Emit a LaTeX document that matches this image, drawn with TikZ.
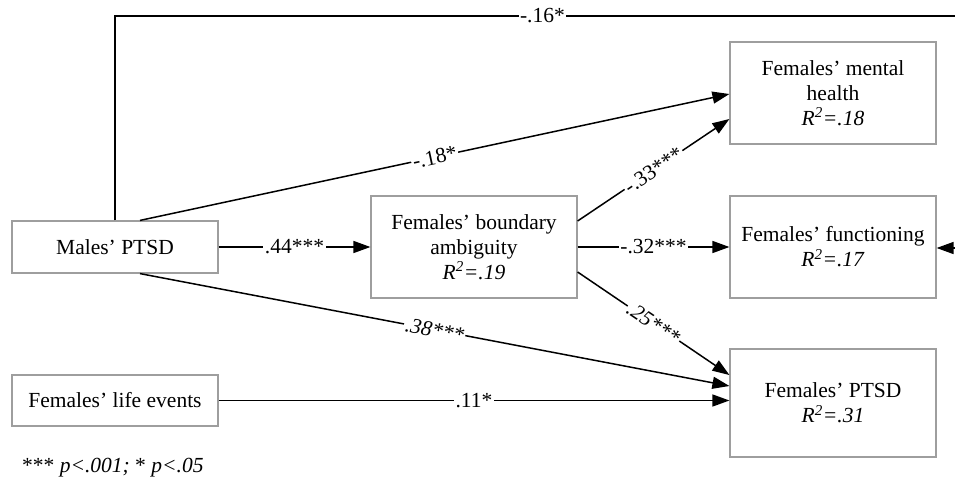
\documentclass[tikz,border=0pt]{standalone}
\usepackage{fontspec}
\setmainfont{Liberation Serif}
\usetikzlibrary{arrows.meta}
\begin{document}
\begin{tikzpicture}[x=1pt,y=-1pt,
  box/.style={draw=black!38, line width=1.2pt, minimum width=206pt, align=center, inner sep=0pt, font=\fontsize{21.5}{25}\selectfont},
  conn/.style={line width=1.5pt, -{Triangle[length=17pt,width=12pt]}},
  plain/.style={line width=1.5pt},
  lab/.style={fill=white, inner sep=1.5pt, font=\fontsize{21.5}{25}\selectfont},
  ilab/.style={lab, font=\fontsize{21.5}{25}\selectfont\itshape}]
\useasboundingbox (0,0) rectangle (955,482);
\clip (0,0) rectangle (955,482);

\node[box, minimum height=52pt] (males) at (115,247) {Males’ PTSD};
\node[box, minimum height=51pt] (life) at (115,400.5) {Females’ life events};
\node[box, minimum height=102pt] (bound) at (474,247) {Females' boundary\\ambiguity\\\textit{R\textsuperscript{2}=.19}};
\node[box, minimum height=102pt] (mental) at (833,93) {Females’ mental\\health\\\textit{R\textsuperscript{2}=.18}};
\node[box, minimum height=102pt] (func) at (833,247) {Females’ functioning\\\textit{R\textsuperscript{2}=.17}};
\node[box, minimum height=108pt] (ptsd) at (833,403) {Females’ PTSD\\\textit{R\textsuperscript{2}=.31}};

\coordinate (tl) at (115,16);
\coordinate (tr) at (975,16);
\coordinate (br) at (975,248);

\draw[conn] ([xshift=25pt]males.north) -- node[lab, sloped] {-.18*} ([yshift=-1pt]mental.west);
\draw[conn] ([yshift=26pt]bound.east) -- node[lab, sloped] {-.33***} ([yshift=-26pt]mental.west);
\draw[conn] (males.east) -- node[lab] {.44***} (bound.west);
\draw[conn] (bound.east) -- node[lab] {-.32***} (func.west);
\draw[conn] ([yshift=-25pt]bound.east) -- node[ilab, sloped] {.25***} ([yshift=28pt]ptsd.west);
\draw[conn] ([xshift=25pt]males.south) -- node[ilab, sloped] {.38***} ([yshift=17pt]ptsd.west);
\draw[conn] (life.east) -- node[lab] {.11*} (life.east -| ptsd.west);
\draw[conn] (males.north) -- (tl) -- node[lab, pos=0.497] {-.16*} (tr) -- (br) -- (func.east |- br);

\node[anchor=base west, inner sep=0pt, font=\fontsize{21.5}{25}\selectfont] (note) at (22,472) {*** \textit{p<.001;} * \textit{p<.05}};
\end{tikzpicture}
\end{document}
